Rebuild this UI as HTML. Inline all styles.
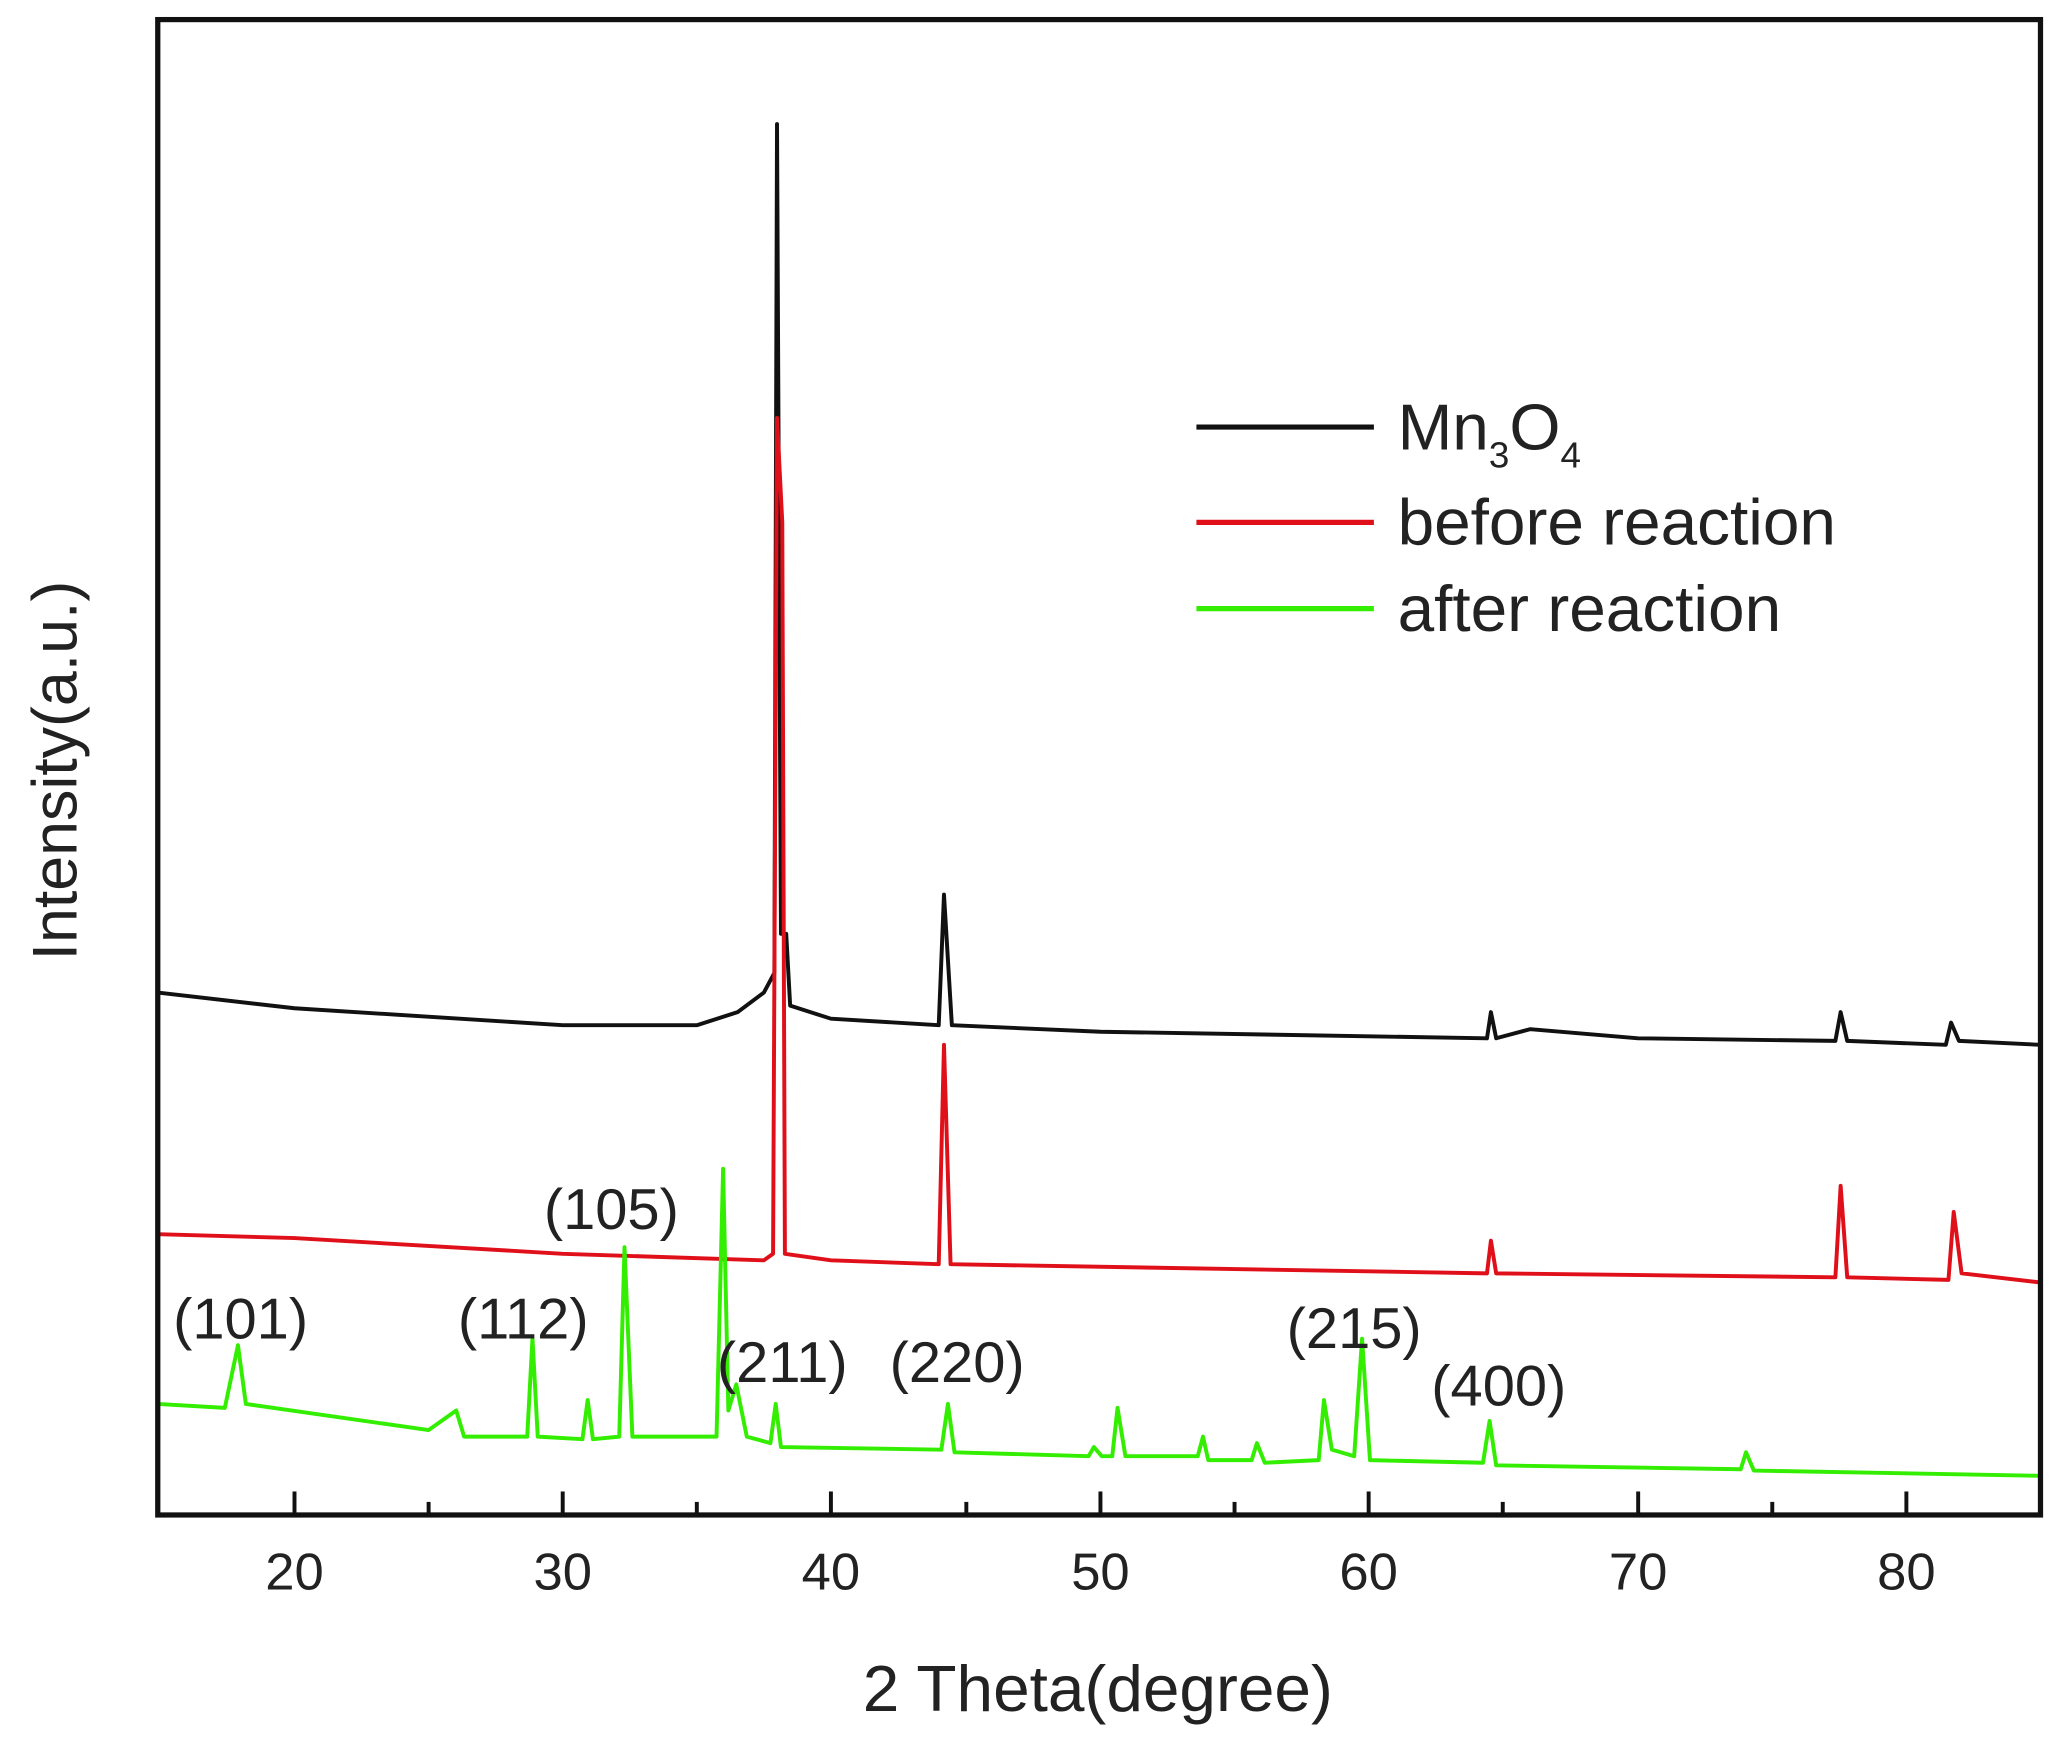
<!DOCTYPE html>
<html><head><style>html,body{margin:0;padding:0;background:#fff}svg{display:block}</style></head>
<body>
<svg width="2051" height="1737" viewBox="0 0 1560 1330" preserveAspectRatio="none" xmlns="http://www.w3.org/2000/svg" font-family="Liberation Sans, Arial, sans-serif">
<rect x="0" y="0" width="1560" height="1330" fill="#fff"/>
<g fill="none" stroke-width="3" stroke-linejoin="round">
<polyline stroke="#111" points="120,760 224,772 428,785 530,785 561,775 581,760 589,745 591,95 594,715 598,715 601,770 632,780 714,785 718,685 724,785 837,790 1131,795 1134,775 1138,795 1164,788 1246,795 1396,797 1400,775 1405,797 1480,800 1484,783 1490,797 1552,800"/>
<polyline stroke="#e0101a" points="120,945 224,948 428,960 581,965 588,960 591,320 593,360 595,400 597,960 632,965 714,968 718,800 723,968 1131,975 1134,950 1138,975 1396,978 1400,908 1405,978 1482,980 1486,928 1492,975 1552,982"/>
<polyline stroke="#33ee00" points="120,1075 171,1078 181,1030 187,1075 326,1095 347,1080 353,1100 401,1100 405,1025 409,1100 443,1102 447,1072 451,1102 471,1100 475,955 481,1100 545,1100 550,895 554,1080 560,1060 568,1100 586,1105 590,1075 594,1108 716,1110 721,1075 726,1112 828,1115 832,1108 838,1115 846,1115 850,1078 856,1115 911,1115 915,1100 919,1118 952,1118 956,1105 962,1120 1003,1118 1007,1072 1013,1110 1030,1115 1036,1025 1042,1118 1128,1120 1133,1088 1138,1122 1324,1125 1328,1112 1334,1126 1552,1130"/>
</g>
<rect x="120" y="15" width="1432" height="1145" fill="none" stroke="#111" stroke-width="4"/>
<g stroke="#111" stroke-width="3">
<line x1="224" y1="1160" x2="224" y2="1142"/><line x1="428" y1="1160" x2="428" y2="1142"/><line x1="632" y1="1160" x2="632" y2="1142"/><line x1="837" y1="1160" x2="837" y2="1142"/><line x1="1041" y1="1160" x2="1041" y2="1142"/><line x1="1246" y1="1160" x2="1246" y2="1142"/><line x1="1450" y1="1160" x2="1450" y2="1142"/>
<line x1="326" y1="1160" x2="326" y2="1150"/><line x1="530" y1="1160" x2="530" y2="1150"/><line x1="735" y1="1160" x2="735" y2="1150"/><line x1="939" y1="1160" x2="939" y2="1150"/><line x1="1143" y1="1160" x2="1143" y2="1150"/><line x1="1348" y1="1160" x2="1348" y2="1150"/>
</g>
<g font-size="40" fill="#222" text-anchor="middle">
<text x="224" y="1217">20</text><text x="428" y="1217">30</text><text x="632" y="1217">40</text><text x="837" y="1217">50</text><text x="1041" y="1217">60</text><text x="1246" y="1217">70</text><text x="1450" y="1217">80</text>
</g>
<text x="835" y="1310" font-size="50" text-anchor="middle" fill="#222">2 Theta(degree)</text>
<text transform="translate(58,590) rotate(-90)" font-size="48" text-anchor="middle" fill="#222">Intensity(a.u.)</text>
<g stroke-width="4"><line x1="910" y1="327" x2="1045" y2="327" stroke="#111"/><line x1="910" y1="400" x2="1045" y2="400" stroke="#e0101a"/><line x1="910" y1="466" x2="1045" y2="466" stroke="#33ee00"/></g>
<g font-size="50" fill="#222">
<text x="1063" y="344">Mn<tspan font-size="28" dy="14">3</tspan><tspan dy="-14">O</tspan><tspan font-size="28" dy="14">4</tspan></text>
<text x="1063" y="417">before reaction</text>
<text x="1063" y="483">after reaction</text>
</g>
<g font-size="44" fill="#222" text-anchor="middle">
<text x="183" y="1025">(101)</text><text x="465" y="941">(105)</text><text x="398" y="1025">(112)</text><text x="595" y="1058">(211)</text><text x="728" y="1058">(220)</text><text x="1030" y="1032">(215)</text><text x="1140" y="1076">(400)</text>
</g>
</svg>
</body></html>
